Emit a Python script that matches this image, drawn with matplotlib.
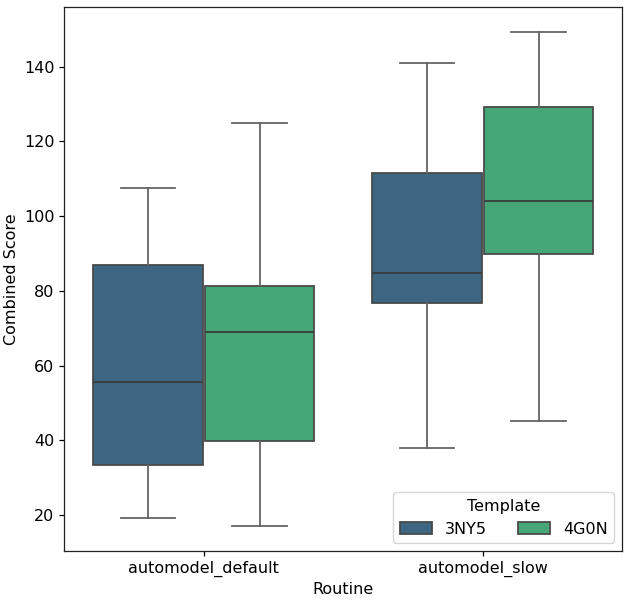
import colorsys
import matplotlib
matplotlib.use("Agg")
import matplotlib.pyplot as plt
from matplotlib.patches import Patch

routines = ["automodel_default", "automodel_slow"]
templates = ["3NY5", "4G0N"]

# box statistics per template, one value per routine
whislo = {"3NY5": [19.3, 38.0], "4G0N": [17.1, 45.2]}
q1 = {"3NY5": [33.5, 76.8], "4G0N": [39.9, 89.9]}
med = {"3NY5": [55.7, 84.8], "4G0N": [69.1, 104.1]}
q3 = {"3NY5": [86.9, 111.5], "4G0N": [81.3, 129.2]}
whishi = {"3NY5": [107.6, 141.1], "4G0N": [125.0, 149.4]}

yticks = [20, 40, 60, 80, 100, 120, 140]


def desat(hexc, prop=0.75):
    r, g, b = matplotlib.colors.to_rgb(hexc)
    h, l, s = colorsys.rgb_to_hls(r, g, b)
    return colorsys.hls_to_rgb(h, l, s * prop)


cmap = plt.get_cmap("viridis")
colors = [desat(cmap(1 / 3)), desat(cmap(2 / 3))]

FS = 11.52
fig = plt.figure(figsize=(6.28, 6.00), dpi=100)
ax = fig.add_axes([64.3 / 628, 49 / 600, (622.3 - 64.3) / 628, (551 - 7.3) / 600])

lw = 1.3
nh = len(templates)
width = 0.8 / nh
for j, t in enumerate(templates):
    stats = []
    for i in range(len(routines)):
        stats.append(dict(med=med[t][i], q1=q1[t][i], q3=q3[t][i],
                          whislo=whislo[t][i], whishi=whishi[t][i], fliers=[]))
    pos = [i - 0.4 + width / 2 + j * width for i in range(len(routines))]
    ax.bxp(stats, positions=pos, widths=width * 0.98, patch_artist=True,
           showfliers=False, manage_ticks=False,
           boxprops=dict(facecolor=colors[j], edgecolor="#4a4a4a", linewidth=lw),
           whiskerprops=dict(color="#646464", linewidth=lw),
           capprops=dict(color="#646464", linewidth=lw),
           medianprops=dict(color="#3c3c3c", linewidth=lw))

ax.set_xlim(-0.5, len(routines) - 0.5)
ax.set_ylim(10.36, 155.9)
ax.set_xticks(range(len(routines)))
ax.set_xticklabels(routines, fontsize=FS)
ax.set_yticks(yticks)
ax.set_yticklabels([str(v) for v in yticks], fontsize=FS)
ax.set_xlabel("Routine", fontsize=FS, color="black")
ax.set_ylabel("Combined Score", fontsize=FS, color="black")
for sp in ax.spines.values():
    sp.set_color("#222222")
    sp.set_linewidth(0.9)
ax.tick_params(colors="black", length=3.5, width=0.9)

handles = [Patch(facecolor=colors[j], edgecolor="#4a4a4a", linewidth=lw, label=t)
           for j, t in enumerate(templates)]
leg = ax.legend(handles=handles, title="Template", ncol=2, loc="lower right",
                fontsize=FS, title_fontsize=FS, columnspacing=2.0)

fig.savefig("out.png", dpi=100)
